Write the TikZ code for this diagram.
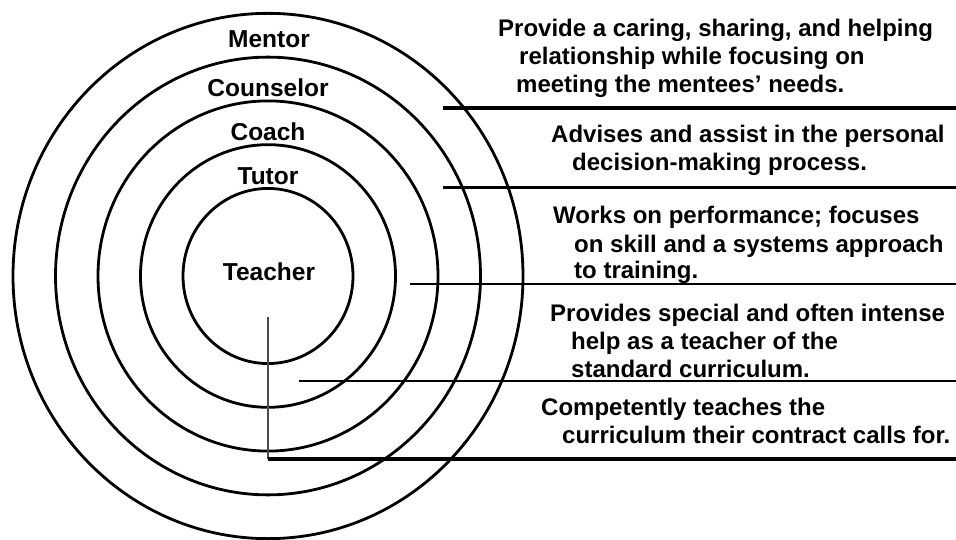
\documentclass[tikz,border=0pt]{standalone}
\usepackage{fontspec}
\setmainfont{Liberation Sans}
\begin{document}
\begin{tikzpicture}[x=1pt,y=-1pt,
  ring/.style={line width=2.8pt},
  role/.style={anchor=base,inner sep=0pt,font=\fontsize{24.5}{28}\selectfont\bfseries},
  txt/.style={anchor=base west,inner sep=0pt,font=\fontsize{24}{28}\selectfont\bfseries}]
\useasboundingbox (0,0) rectangle (956,540);
\coordinate (ctr) at (268,276);
\coordinate (edge) at (956,0);
% rings
\foreach \r in {85,127.5,170,212.5,255}
  \draw[ring] (ctr) ellipse [x radius=\r pt, y radius=1.03*\r pt];
% roles
\node[role] (mentor) at (269,48) {Mentor};
\node[role] (counselor) at (268,97) {Counselor};
\node[role] (coach) at (268,141) {Coach};
\node[role] (tutor) at (268,185) {Tutor};
\node[role] (teacher) at (269,280) {Teacher};
% descriptions
\node[txt] (m1) at (498,37) {Provide a caring, sharing, and helping};
\node[txt] (m2) at (519,65) {relationship while focusing on};
\node[txt] (m3) at (516,93) {meeting the mentees’ needs.};
\node[txt] (c1) at (551,143) {Advises and assist in the personal};
\node[txt] (c2) at (572,171) {decision-making process.};
\node[txt] (h1) at (553,224) {Works on performance; focuses};
\node[txt] (h2) at (574,252) {on skill and a systems approach};
\node[txt] (h3) at (574,279) {to training.};
\node[txt] (t1) at (550,321) {Provides special and often intense};
\node[txt] (t2) at (571,349) {help as a teacher of the};
\node[txt] (t3) at (571,377) {standard curriculum.};
\node[txt] (e1) at (541,415) {Competently teaches the};
\node[txt] (e2) at (562,443) {curriculum their contract calls for.};
% leader lines
\foreach \n/\x/\y/\w in {1/443/108/3.4,2/443/188/3,3/410/284/2.4,4/299/381/2.4}{
  \coordinate (l\n) at (\x,\y);
  \draw[line width=\w pt] (l\n) -- (l\n -| edge);
}
\coordinate (stem) at (268,317);
\coordinate (l5) at (268,459);
\draw[line width=1.8pt, black!70] (stem) -- (l5);
\draw[line width=3.8pt] (l5) -- (l5 -| edge);
\end{tikzpicture}
\end{document}
